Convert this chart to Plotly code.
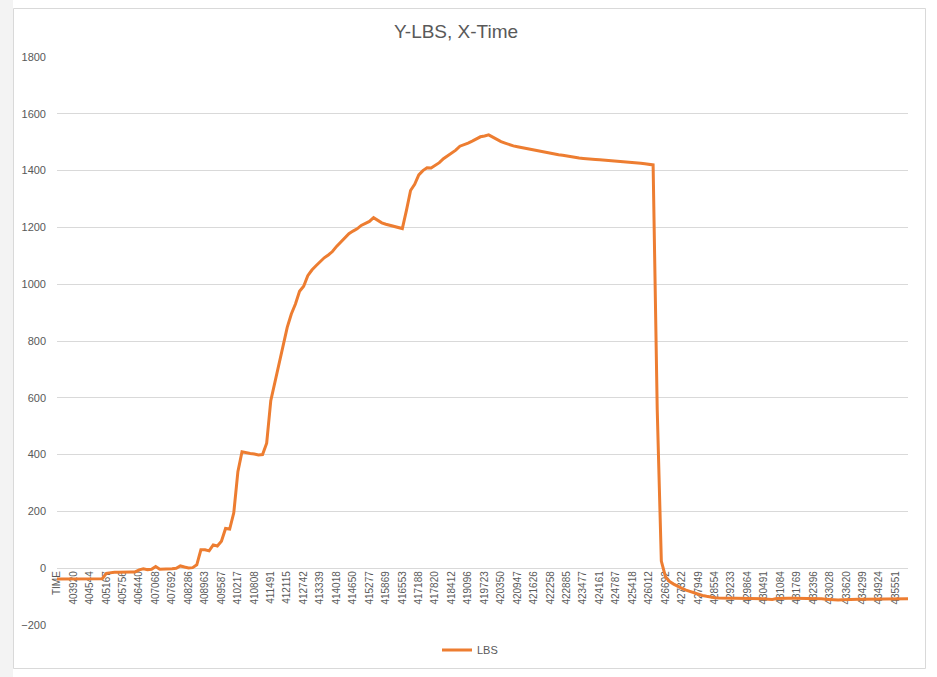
import plotly.graph_objects as go

# Tick labels shown on the category axis (every 4th sample)
time_labels = ["TIME", "403920", "404544", "405167", "405756", "406440", "407068", "407692",
               "408286", "408963", "409587", "410217", "410808", "411491", "412115", "412742",
               "413339", "414018", "414650", "415277", "415869", "416553", "417188", "417820",
               "418412", "419096", "419723", "420350", "420947", "421626", "422258", "422885",
               "423477", "424161", "424787", "425418", "426012", "426692", "427322", "427949",
               "428554", "429233", "429864", "430491", "431084", "431769", "432396", "433028",
               "433620", "434299", "434924", "435551"]

# LBS readings (4 samples per labelled interval)
lbs = [-38, -38, -38, -38, -38, -38, -38, -38, -38, -38, -38, -37,
       -18, -15, -14, -14, -13, -12, -13, -13, -6, -2, -5, -4,
       6, -4, -4, -3, -2, 0, 8, 4, 1, 2, 12, 65,
       65, 61, 82, 78, 95, 140, 138, 195, 340, 410, 406, 404,
       402, 399, 400, 440, 590, 655, 725, 780, 848, 895, 930, 975,
       993, 1030, 1050, 1065, 1080, 1093, 1103, 1115, 1133, 1148, 1165, 1178,
       1187, 1195, 1207, 1215, 1221, 1234, 1225, 1216, 1211, 1207, 1203, 1198,
       1196, 1260, 1330, 1352, 1385, 1400, 1410, 1409, 1418, 1428, 1442, 1452,
       1459, 1472, 1486, 1491, 1497, 1504, 1512, 1519, 1522, 1526, 1518, 1509,
       1502, 1497, 1491, 1487, 1484, 1481, 1478, 1476, 1473, 1470, 1467, 1465,
       1462, 1459, 1456, 1454, 1451, 1449, 1446, 1444, 1443, 1441, 1440, 1439,
       1438, 1437, 1436, 1434, 1432, 1431, 1430, 1430, 1429, 1429, 1426, 1424,
       1422, 1420, 560, 25, -30, -47, -56, -64, -71, -77, -82, -87,
       -92, -96, -99, -102, -104, -105, -106, -106, -106, -106, -106, -107,
       -107, -107, -107, -108, -108, -109, -110, -107, -106, -106, -106, -106,
       -106, -106, -106, -106, -107, -107, -108, -109, -110, -112, -112, -111,
       -110, -109, -109, -109, -109, -109, -109, -108, -108, -108, -108, -108,
       -108, -108, -108, -108]

# Category names: labelled times plus estimated times of the unlabelled samples
label_nums = [int(t) for t in time_labels[1:]]
categories = []
for j in range(len(lbs)):
    k, r = divmod(j, 4)
    if r == 0 and k < len(time_labels):
        categories.append(time_labels[k])
    elif k == 0:
        categories.append(str(label_nums[0] - 158 * (4 - r)))
    elif k < len(time_labels) - 1:
        a, b = label_nums[k - 1], label_nums[k]
        categories.append(str(round(a + (b - a) * r / 4)))
    else:
        categories.append(str(label_nums[-1] + 158 * r))

W, H = 937, 677
L, R, T, B = 57, 29, 57, 52
pw, ph = W - L - R, H - T - B


def px2x(px):
    return (px - L) / pw


def py2y(py):
    return (H - B - py) / ph


fig = go.Figure()
fig.add_trace(go.Scatter(x=categories, y=lbs, mode="lines", name="LBS",
                         line=dict(color="#ED7D31", width=3)))

grey = "#595959"
fig.update_layout(
    width=W, height=H, autosize=False,
    margin=dict(l=L, r=R, t=T, b=B),
    paper_bgcolor="white", plot_bgcolor="white",
    font=dict(family="Liberation Sans, Arial, sans-serif", color=grey),
    title=dict(text="Y-LBS, X-Time", xref="container", x=456 / W, xanchor="center",
               yref="container", y=1 - 31 / H, yanchor="middle",
               font=dict(size=19, color=grey)),
    xaxis=dict(type="category", range=[0, len(lbs) - 1], tickmode="array",
               tickvals=time_labels, ticktext=time_labels, tickangle=-90,
               anchor="free", position=0.1, showgrid=False, showline=False,
               zeroline=False, ticks="", automargin=False, layer="below traces",
               tickfont=dict(size=10, color=grey,
                             family="Liberation Sans Narrow, Arial Narrow, Liberation Sans, sans-serif")),
    yaxis=dict(range=[-200, 1800], tickmode="linear", tick0=-200, dtick=200,
               gridcolor="#D9D9D9", gridwidth=1, zeroline=False, showline=False,
               ticks="", automargin=False, ticklabelstandoff=10,
               tickfont=dict(size=11, color=grey)),
    showlegend=True,
    legend=dict(orientation="h", x=px2x(470), xanchor="center", y=py2y(650),
                yanchor="middle", font=dict(size=11, color=grey), itemwidth=30,
                bgcolor="rgba(0,0,0,0)"),
    shapes=[
        dict(type="rect", xref="paper", yref="paper", x0=px2x(0), x1=px2x(13),
             y0=py2y(H), y1=py2y(0), fillcolor="#F3F3F3", line=dict(width=0), layer="below"),
        dict(type="rect", xref="paper", yref="paper", x0=px2x(13.5), x1=px2x(925.5),
             y0=py2y(668.5), y1=py2y(8.5), fillcolor="rgba(0,0,0,0)",
             line=dict(color="#D9D9D9", width=1), layer="below"),
    ],
)

fig.write_html("out.html", config={"displayModeBar": False},
               post_script="document.body.style.margin='0';document.body.style.overflow='hidden';")
